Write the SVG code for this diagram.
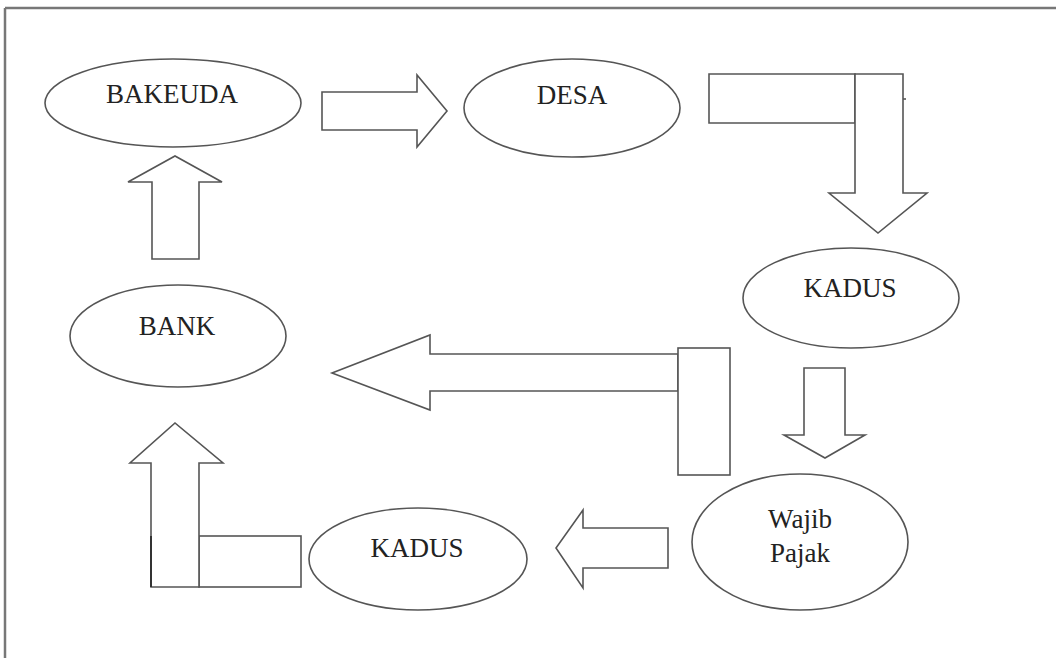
<svg xmlns="http://www.w3.org/2000/svg" width="1056" height="658" viewBox="0 0 1056 658">
<style>
.n{fill:#fff;stroke:#555;stroke-width:1.6}
.a{fill:#fff;stroke:#555;stroke-width:1.6;stroke-linejoin:miter}
.t{font-family:"Liberation Serif","Times New Roman",serif;font-size:27px;fill:#222;text-anchor:middle}
.f{stroke:#777;stroke-width:2.5;fill:none}
</style>
<rect width="1056" height="658" fill="#fff"/>
<g id="frame">
<line class="f" x1="5" y1="8" x2="1056" y2="8"/>
<line class="f" x1="5" y1="8" x2="5" y2="658"/>
</g>
<g id="connectors">
<polygon class="a" points="322,92 417,92 417,75 447,111 417,147 417,130 322,130"/>
<polygon class="a" points="709,74 855,74 855,123 709,123"/>
<polygon class="a" points="855,74 903,74 903,193 927,193 878,233 829,193 855,193"/>
<line x1="903" y1="99" x2="906" y2="99" stroke="#555" stroke-width="1.6"/>
<polygon class="a" points="804,368 845,368 845,435 865,435 825,458 784,435 804,435"/>
<polygon class="a" points="678,354 430,354 430,335 332,373 430,410 430,391 678,391"/>
<rect class="a" x="678" y="348" width="52" height="127"/>
<polygon class="a" points="668,528 583,528 583,510 556,548 583,588 583,568 668,568"/>
<rect class="a" x="199" y="536" width="102" height="51"/>
<polygon class="a" points="151,587 199,587 199,463 223,463 175,423 130,463 151,463"/>
<line x1="151" y1="536" x2="151" y2="587" stroke="#333" stroke-width="2"/>
<polygon class="a" points="152,259 199,259 199,182 222,182 175,156 128,182 152,182"/>
</g>
<g id="bakeuda"><ellipse class="n" cx="173" cy="103" rx="128" ry="44"/><text class="t" x="172" y="103">BAKEUDA</text></g>
<g id="desa"><ellipse class="n" cx="572" cy="108" rx="108" ry="49"/><text class="t" x="572" y="104">DESA</text></g>
<g id="kadus1"><ellipse class="n" cx="851" cy="298" rx="108" ry="50"/><text class="t" x="850" y="297">KADUS</text></g>
<g id="wajib"><ellipse class="n" cx="800" cy="542" rx="108" ry="68"/><text class="t" x="800" y="528">Wajib</text><text class="t" x="800" y="562">Pajak</text></g>
<g id="kadus2"><ellipse class="n" cx="418" cy="559" rx="109" ry="51"/><text class="t" x="417" y="557">KADUS</text></g>
<g id="bank"><ellipse class="n" cx="178" cy="336" rx="108" ry="51"/><text class="t" x="177" y="335">BANK</text></g>
</svg>
